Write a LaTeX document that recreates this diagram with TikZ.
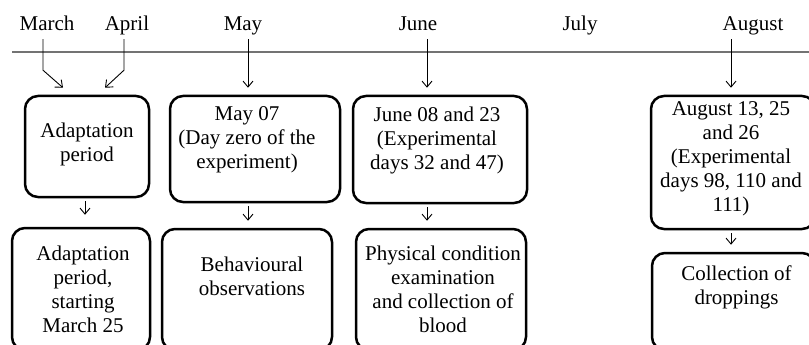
\documentclass[tikz,border=0pt]{standalone}
\usepackage{fontspec}
\setmainfont{Liberation Serif}
\usetikzlibrary{positioning,arrows.meta}

\begin{document}
\begin{tikzpicture}[x=1pt,y=-1pt,
  month/.style={anchor=base,font=\fontsize{21}{24}\selectfont,text depth=5pt,inner sep=3pt},
  box/.style={draw,line width=2.5pt,rounded corners=13pt,inner sep=0pt},
  txt/.style={align=center,inner sep=0pt,font=\fontsize{21}{24}\selectfont},
  arr/.style={-{Straight Barb[length=6pt,width=10pt]},line width=0.9pt}]
  \useasboundingbox (0,0) rectangle (809,345);
  \clip (0,0) rectangle (809,345);
  % timeline
  \draw[line width=1.8pt,black!55] (12,52) -- (809,52);
  \node[month] (march)  at (47,31)  {March};
  \node[month] (april)  at (127,31) {April};
  \node[month] (may)    at (243,31) {May};
  \node[month] (june)   at (418,31) {June};
  \node[month] (july)   at (580,31) {July};
  \node[month] (august) at (753,31) {August};
  % upper row
  \node[box,minimum width=124pt,minimum height=101pt] (adbox)   at (87,146.5)  {};
  \node[box,minimum width=170pt,minimum height=106pt] (maybox)  at (255,149)   {};
  \node[box,minimum width=174pt,minimum height=107pt] (junebox) at (440,149.5) {};
  \node[box,minimum width=164pt,minimum height=133pt] (augbox)  at (733,162.5) {};
  \node[txt,below=28pt of adbox.north] (adtxt) {Adaptation\\period};
  \node[txt,below=12pt of maybox.north,xshift=-8pt] (maytxt) {May 07\\(Day zero of the\\experiment)};
  \node[txt,below=12pt of junebox.north,xshift=-3pt] (junetxt) {June 08 and 23\\(Experimental\\days 32 and 47)};
  \node[txt,below=7pt of augbox.north,xshift=-2pt] (augtxt) {August 13, 25\\and 26\\(Experimental\\days 98, 110 and\\111)};
  % lower row
  \node[box,minimum width=138pt,minimum height=122pt] (ad2box)  at (81,289)     {};
  \node[box,minimum width=170pt,minimum height=121pt] (behbox)  at (247,289.5)  {};
  \node[box,minimum width=170pt,minimum height=121pt] (physbox) at (441,289.5)  {};
  \node[box,minimum width=163pt,minimum height=97pt]  (colbox)  at (733.5,301.5) {};
  \node[txt,below=19pt of ad2box.north,xshift=2pt] (ad2txt) {Adaptation\\period,\\starting\\March 25};
  \node[txt,below=29pt of behbox.north,xshift=5pt] (behtxt) {Behavioural\\observations};
  \node[txt,below=18pt of physbox.north,xshift=2pt] (phystxt) {Physical condition\\examination\\and collection of\\blood};
  \node[txt,below=14pt of colbox.north,xshift=3pt] (coltxt) {Collection of\\droppings};
  % arrows from the months
  \coordinate (marend) at ([xshift=-24pt,yshift=7pt]adbox.north);
  \coordinate (aprend) at ([xshift=18pt,yshift=7pt]adbox.north);
  \coordinate (mayend) at ([xshift=-7pt,yshift=7pt]maybox.north);
  \coordinate (junend) at ([xshift=-13pt,yshift=7pt]junebox.north);
  \coordinate (augend) at ([xshift=-2pt,yshift=7pt]augbox.north);
  \draw[arr] ([xshift=-4pt]march.south) -- ++(0,31) -- (marend);
  \draw[arr] ([xshift=-3pt]april.south) -- ++(0,31) -- (aprend);
  \draw[arr] (may.south -| mayend) -- (mayend);
  \draw[arr] (june.south -| junend) -- (junend);
  \draw[arr] (august.south -| augend) -- (augend);
  % arrows between the rows
  \draw[arr,shorten <=3pt,shorten >=12pt] ([xshift=-2pt]adbox.south) -- ([xshift=-2pt]adbox.south |- ad2box.north);
  \draw[arr,shorten <=3pt,shorten >=7pt] (maybox.south -| mayend) -- (behbox.north -| mayend);
  \draw[arr,shorten <=3pt,shorten >=7pt] (junebox.south -| junend) -- (physbox.north -| junend);
  \draw[arr,shorten <=3pt,shorten >=7pt] (augbox.south -| augend) -- (colbox.north -| augend);
\end{tikzpicture}
\end{document}
